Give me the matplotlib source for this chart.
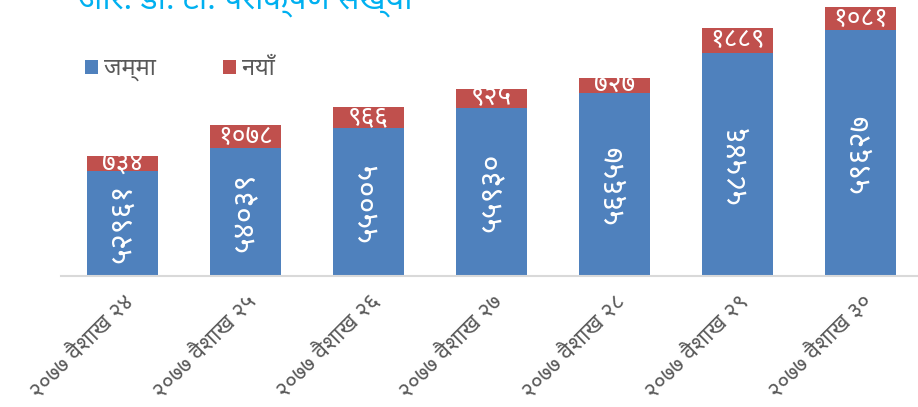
import matplotlib
matplotlib.use("Agg")
import matplotlib.pyplot as plt
from matplotlib import font_manager
import numpy as np

# pick a font with Devanagari glyphs, DejaVu for the rest
names = {f.name for f in font_manager.fontManager.ttflist}
deva = next((n for n in ["Noto Sans Devanagari", "Mukta", "Hind", "Annapurna SIL"] if n in names), "DejaVu Sans")
plt.rcParams['font.family'] = [deva, 'DejaVu Sans']

# data
dates = ["२०७७ वैशाख २४", "२०७७ वैशाख २५", "२०७७ वैशाख २६", "२०७७ वैशाख २७",
         "२०७७ वैशाख २८", "२०७७ वैशाख २९", "२०७७ वैशाख ३०"]
total = [52961, 54039, 55005, 55930, 56657, 58546, 59627]
new = [734, 1078, 966, 925, 727, 1189, 1081]   # bar heights as drawn
new_labels = ["७३४", "१०७८", "९६६", "९२५", "७२७", "१८८९", "१०८१"]   # printed labels
title = "आर. डी. टी. परीक्षण संख्या"

deva_digits = str.maketrans("0123456789", "०१२३४५६७८९")
def nep(v):
    return str(v).translate(deva_digits)

blue = "#4F81BD"
red = "#C0504D"
grey = "#595959"

fig = plt.figure(figsize=(9.18, 4.07), dpi=100)
ax = fig.add_axes([61/918, 131/407, 861/918, 276/407])

x = np.arange(len(dates))
b1 = ax.bar(x, total, width=0.58, color=blue, label="जम्मा")
b2 = ax.bar(x, new, width=0.58, bottom=total, color=red, label="नयाँ")

ax.bar_label(b1, labels=[nep(v) for v in total], label_type="center",
             rotation=90, color="white", fontsize=22)
ax.bar_label(b2, labels=new_labels, label_type="center",
             color="white", fontsize=19, fontweight="bold")

ax.set_xlim(-0.5, 6.5)
ax.set_ylim(48000, 61050)
ax.set_yticks([])
ax.set_xticks(x)
ax.set_xticklabels(dates, rotation=45, ha="right", rotation_mode="anchor",
                   fontsize=16.5, color=grey)
ax.tick_params(axis="x", length=0, pad=10)
for s in ["top", "left", "right"]:
    ax.spines[s].set_visible(False)
ax.spines["bottom"].set_color("#D9D9D9")
ax.spines["bottom"].set_linewidth(1.5)

ax.legend(loc="upper left", bbox_to_anchor=(85/918, 1 - 57/407), bbox_transform=fig.transFigure,
          ncol=2, frameon=False, fontsize=17, labelcolor=grey,
          handlelength=0.55, handleheight=0.55, handletextpad=0.25, columnspacing=2.85,
          borderaxespad=0, borderpad=0)

fig.text(78/918, 1 - 9/407, title, color="#00B0F0", fontsize=23, fontweight="bold", va="baseline")

fig.savefig("out.png", dpi=100)
